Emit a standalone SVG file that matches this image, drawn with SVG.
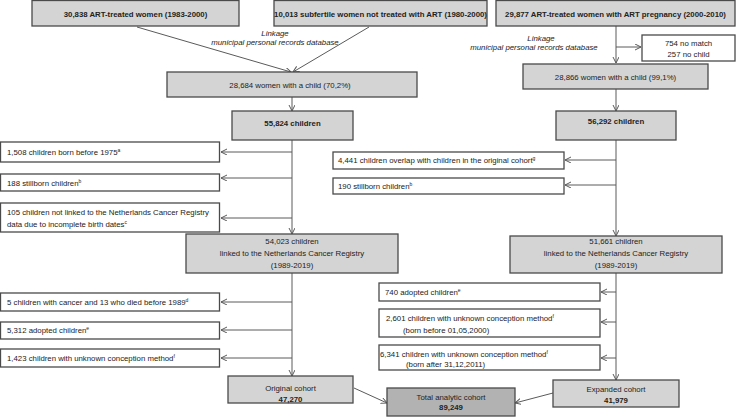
<svg xmlns="http://www.w3.org/2000/svg" width="736" height="417" viewBox="0 0 736 417">
<defs>
<style>
.bx{fill:#d4d4d4;stroke:#4a4a4a;stroke-width:1.3}
.wb{fill:#ffffff;stroke:#4a4a4a;stroke-width:1.3}
.tb{fill:#b2b2b2;stroke:#4a4a4a;stroke-width:1.3}
text{font-family:"Liberation Sans",Arial,sans-serif;font-size:7.8px;fill:#222}
.b{font-weight:bold}
.c{text-anchor:middle}
.i{font-style:italic}
.sup{font-size:5px}
.ln{fill:none;stroke:#5a5a5a;stroke-width:1;marker-end:url(#ah)}
.pl{fill:none;stroke:#5a5a5a;stroke-width:1}
</style>
<marker id="ah" markerWidth="8" markerHeight="8" refX="6" refY="3" orient="auto" markerUnits="userSpaceOnUse">
<path d="M0,0 L6,3 L0,6" fill="none" stroke="#5a5a5a" stroke-width="1"/>
</marker>
</defs>

<g id="connectors">
<line class="ln" x1="137" y1="27" x2="291" y2="72"/>
<line class="ln" x1="369" y1="27" x2="293" y2="72"/>
<line class="ln" x1="616" y1="26" x2="616" y2="63"/>
<line class="ln" x1="616" y1="47" x2="641" y2="47"/>
<line class="ln" x1="292" y1="97" x2="292" y2="111"/>
<line class="ln" x1="616" y1="89" x2="616" y2="111"/>
<line class="ln" x1="292" y1="140" x2="292" y2="234"/>
<line class="ln" x1="292" y1="152" x2="221" y2="152"/>
<line class="ln" x1="292" y1="178" x2="221" y2="178"/>
<line class="ln" x1="292" y1="218" x2="221" y2="218"/>
<line class="ln" x1="616" y1="140" x2="616" y2="236"/>
<line class="ln" x1="616" y1="160" x2="565" y2="160"/>
<line class="ln" x1="616" y1="185" x2="565" y2="185"/>
<line class="ln" x1="292" y1="273" x2="292" y2="376"/>
<line class="ln" x1="292" y1="302" x2="221" y2="302"/>
<line class="ln" x1="292" y1="330" x2="221" y2="330"/>
<line class="ln" x1="292" y1="358" x2="221" y2="358"/>
<line class="ln" x1="616" y1="273" x2="616" y2="380"/>
<line class="ln" x1="616" y1="292" x2="601" y2="292"/>
<line class="ln" x1="616" y1="322" x2="601" y2="322"/>
<line class="ln" x1="616" y1="358" x2="601" y2="358"/>
<line class="ln" x1="354" y1="388" x2="387" y2="403"/>
<line class="ln" x1="553" y1="393" x2="515" y2="403"/>
</g>

<g id="label-linkage-left">
<text class="i c" x="275" y="36">Linkage</text>
<text class="i c" x="275" y="45">municipal personal records database</text>
</g>
<g id="label-linkage-right">
<text class="i c" x="541" y="41">Linkage</text>
<text class="i c" x="534" y="50">municipal personal records database</text>
</g>

<g id="n-art-women">
<rect class="bx" x="32" y="0.5" width="207" height="25.5"/>
<text class="b c" x="135.5" y="16.5">30,838 ART-treated women (1983-2000)</text>
</g>
<g id="n-subfertile">
<rect class="bx" x="274" y="0.5" width="213" height="25.5"/>
<text class="b c" x="380.5" y="16.5">10,013 subfertile women not treated with ART (1980-2000)</text>
</g>
<g id="n-art-preg">
<rect class="bx" x="496" y="0.5" width="239" height="25.5"/>
<text class="b c" x="615.5" y="16.5">29,877 ART-treated women with ART pregnancy (2000-2010)</text>
</g>
<g id="n-nomatch">
<rect class="wb" x="642" y="35" width="93" height="26"/>
<text class="c" x="688.5" y="45.5">754 no match</text>
<text class="c" x="688.5" y="56.5">257 no child</text>
</g>
<g id="n-women-child-left">
<rect class="bx" x="167" y="72" width="250" height="25"/>
<text class="c" x="290" y="87.5">28,684 women with a child (70,2%)</text>
</g>
<g id="n-women-child-right">
<rect class="bx" x="523" y="64" width="185" height="25"/>
<text class="c" x="615.5" y="79.5">28,866 women with a child (99,1%)</text>
</g>
<g id="n-55824">
<rect class="bx" x="232" y="111" width="121" height="29"/>
<text class="b c" x="292.5" y="125.5">55,824 children</text>
</g>
<g id="n-56292">
<rect class="bx" x="556" y="111" width="120" height="29"/>
<text class="b c" x="616" y="124">56,292 children</text>
</g>

<g id="n-ex-1508">
<rect class="wb" x="0.5" y="142" width="219" height="20"/>
<text x="7" y="154.5">1,508 children born before 1975<tspan class="sup" dy="-3">a</tspan></text>
</g>
<g id="n-ex-188">
<rect class="wb" x="0.5" y="174" width="219" height="17"/>
<text x="7" y="185.5">188 stillborn children<tspan class="sup" dy="-3">b</tspan></text>
</g>
<g id="n-ex-105">
<rect class="wb" x="0.5" y="203" width="219" height="29"/>
<text x="7" y="214.5">105 children not linked to the Netherlands Cancer Registry</text>
<text x="7" y="226.5">data due to incomplete birth dates<tspan class="sup" dy="-3">c</tspan></text>
</g>
<g id="n-ex-4441">
<rect class="wb" x="333" y="152" width="231" height="17"/>
<text x="338" y="163">4,441 children overlap with children in the original cohort<tspan class="sup" dy="-3">g</tspan></text>
</g>
<g id="n-ex-190">
<rect class="wb" x="333" y="178" width="231" height="16"/>
<text x="338" y="188.5">190 stillborn children<tspan class="sup" dy="-3">b</tspan></text>
</g>

<g id="n-54023">
<rect class="bx" x="186" y="234" width="212" height="39"/>
<text class="c" x="292" y="243.5">54,023 children</text>
<text class="c" x="292" y="255.5">linked to the Netherlands Cancer Registry</text>
<text class="c" x="292" y="267.5">(1989-2019)</text>
</g>
<g id="n-51661">
<rect class="bx" x="510" y="236" width="212" height="37"/>
<text class="c" x="616" y="244">51,661 children</text>
<text class="c" x="616" y="256">linked to the Netherlands Cancer Registry</text>
<text class="c" x="616" y="268">(1989-2019)</text>
</g>

<g id="n-ex-5cancer">
<rect class="wb" x="0.5" y="293" width="219" height="18"/>
<text x="7" y="304.5">5 children with cancer and 13 who died before 1989<tspan class="sup" dy="-3">d</tspan></text>
</g>
<g id="n-ex-5312">
<rect class="wb" x="0.5" y="322" width="219" height="17"/>
<text x="7" y="333">5,312 adopted children<tspan class="sup" dy="-3">e</tspan></text>
</g>
<g id="n-ex-1423">
<rect class="wb" x="0.5" y="349" width="219" height="18"/>
<text x="7" y="360.5">1,423 children with unknown conception method<tspan class="sup" dy="-3">f</tspan></text>
</g>
<g id="n-ex-740">
<rect class="wb" x="379" y="283" width="221" height="18"/>
<text x="385" y="294.5">740 adopted children<tspan class="sup" dy="-3">e</tspan></text>
</g>
<g id="n-ex-2601">
<rect class="wb" x="379" y="309" width="221" height="28"/>
<text x="386" y="320.5">2,601 children with unknown conception method<tspan class="sup" dy="-3">f</tspan></text>
<text x="403" y="332.5">(born before 01,05,2000)</text>
</g>
<g id="n-ex-6341">
<rect class="wb" x="379" y="345" width="221" height="25"/>
<text x="380" y="356.5">6,341 children with unknown conception method<tspan class="sup" dy="-3">f</tspan></text>
<text x="406" y="366.5">(born after 31,12,2011)</text>
</g>

<g id="n-original">
<rect class="bx" x="228" y="376" width="125" height="27"/>
<text class="c" x="290.5" y="390.5">Original cohort</text>
<text class="b c" x="290.5" y="401.5">47,270</text>
</g>
<g id="n-expanded">
<rect class="bx" x="553" y="380" width="126" height="27"/>
<text class="c" x="616" y="391.5">Expanded cohort</text>
<text class="b c" x="616" y="402.5">41,979</text>
</g>
<g id="n-total">
<rect class="tb" x="387" y="388" width="128" height="28"/>
<text class="c" x="451" y="399.5">Total analytic cohort</text>
<text class="b c" x="451" y="410">89,249</text>
</g>
</svg>
